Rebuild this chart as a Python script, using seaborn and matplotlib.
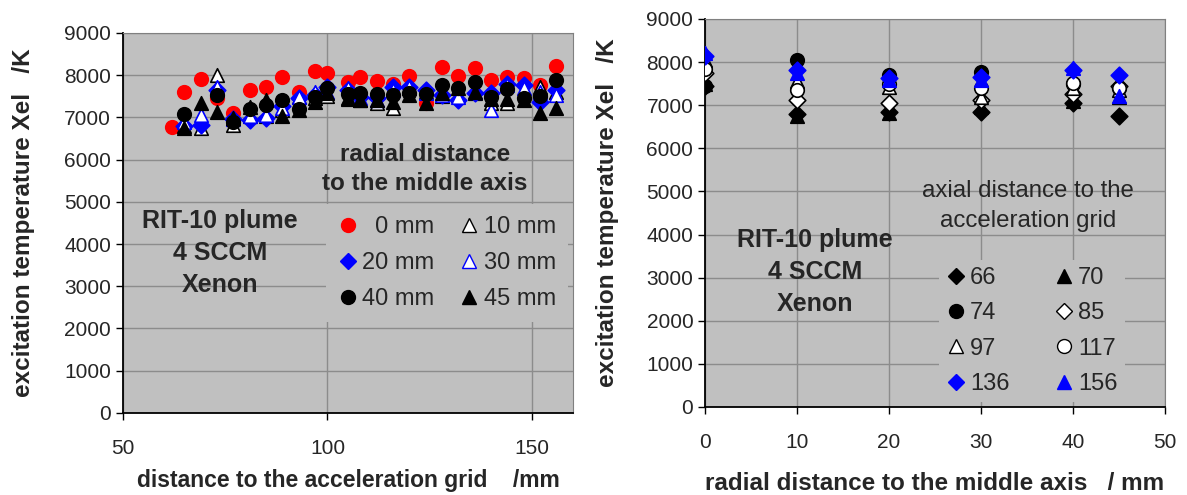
import numpy as np
import pandas as pd
import matplotlib
matplotlib.use("Agg")
import matplotlib.pyplot as plt
import seaborn as sns
from matplotlib.lines import Line2D

sns.set_style("white")
FONT = ['Liberation Sans', 'DejaVu Sans']
plt.rcParams['font.family'] = FONT

# ---- left panel: temperature vs axial distance, one series per radial distance
axial_mm = [62, 65, 69, 73, 77, 81, 85, 89, 93, 97, 100, 105, 108, 112, 116,
            120, 124, 128, 132, 136, 140, 144, 148, 152, 156]
t_r0 = [6780, 7610, 7900, 7450, 7100, 7650, 7720, 7960, 7610, 8100, 8060, 7840, 7950,
        7860, 7800, 7980, 7340, 8200, 7980, 8160, 7880, 7960, 7920, 7760, 8210]
t_r10 = [np.nan, 6800, 6740, 8000, 6820, 7020, 7020, 7170, 7490, 7450, 7500, 7450, 7410,
         7330, 7210, 7690, 7610, 7500, 7530, 7570, 7330, 7330, 7610, 7720, 7610]
t_r20 = [np.nan, 6800, 6820, 7650, 6950, 6940, 6980, 7270, 7450, 7530, 7720, 7650, 7470,
         7450, 7720, 7720, 7650, 7530, 7410, 7570, 7580, 7800, 7760, 7370, 7650]
t_r30 = [np.nan, 6900, 7050, 7720, 6950, 7020, 7050, 7210, 7490, 7610, 7610, 7690, 7450,
         7410, 7650, 7720, 7570, 7530, 7490, 7610, 7170, 7760, 7690, 7610, 7530]
t_r40 = [np.nan, 7070, np.nan, 7530, 6900, 7190, 7290, 7410, 7190, 7470, 7690, 7550, 7570,
         7550, 7530, 7570, 7560, 7760, 7690, 7840, 7490, 7660, 7450, 7500, 7880]
t_r45 = [np.nan, 6740, 7330, 7130, 6980, 7240, 7410, 7020, 7170, 7370, 7580, 7430, 7410,
         7410, 7370, 7530, 7330, 7570, 7690, 7610, 7430, 7430, 7410, 7090, 7210]

# ---- right panel: temperature vs radial distance, one series per axial distance
radial_mm = [0, 10, 20, 30, 40, 45]
t_a66 = [7450, 6800, 6850, 6850, 7050, 6750]
t_a70 = [7500, 6740, 6810, 6950, 7100, 7200]
t_a74 = [7450, 8040, 7700, 7760, 7500, 7400]
t_a85 = [7740, 7120, 7060, 7120, 7260, 7450]
t_a97 = [8050, 7550, 7430, 7200, 7400, 7350]
t_a117 = [7830, 7350, 7500, 7390, 7520, 7390]
t_a136 = [8130, 7820, 7630, 7660, 7820, 7700]
t_a156 = [8200, 7740, 7590, 7590, 7860, 7220]

left_series = [
    ("\u20070 mm", t_r0, "o", "red", "red"),
    ("10 mm", t_r10, "^", "white", "black"),
    ("20 mm", t_r20, "D", "blue", "blue"),
    ("30 mm", t_r30, "^", "white", "blue"),
    ("40 mm", t_r40, "o", "black", "black"),
    ("45 mm", t_r45, "^", "black", "black"),
]
right_series = [
    ("66", t_a66, "D", "black", "black"),
    ("70", t_a70, "^", "black", "black"),
    ("74", t_a74, "o", "black", "black"),
    ("85", t_a85, "D", "white", "black"),
    ("97", t_a97, "^", "white", "black"),
    ("117", t_a117, "o", "white", "black"),
    ("136", t_a136, "D", "blue", "blue"),
    ("156", t_a156, "^", "blue", "blue"),
]

BG = "#c0c0c0"
fig = plt.figure(figsize=(11.87, 4.95), dpi=100)
ax1 = fig.add_axes([0.1036, 0.1657, 0.379, 0.768])
ax2 = fig.add_axes([0.594, 0.1778, 0.3875, 0.784])


def style(ax):
    ax.set_facecolor(BG)
    ax.grid(True, color="#8c8c8c", lw=1.0)
    ax.set_axisbelow(True)
    for s in ["top", "right"]:
        ax.spines[s].set_color("#808080")
    for s in ["left", "bottom"]:
        ax.spines[s].set_color("black")
        ax.spines[s].set_linewidth(1.3)
    ax.tick_params(axis="both", direction="out", length=5, width=1, color="black",
                   labelsize=15, left=True, bottom=True)
    ax.tick_params(axis="x", pad=14)
    ax.set_ylim(0, 9000)
    ax.set_yticks(np.arange(0, 9001, 1000))


def draw(ax, x, series, size):
    handles = []
    for label, vals, m, fc, ec in series:
        df = pd.DataFrame({"x": x, "y": vals}).dropna()
        sns.scatterplot(data=df, x="x", y="y", marker=m, s=size * (0.75 if m == "D" else 1),
                        color=fc, edgecolor=ec, linewidth=1.2, ax=ax, legend=False, zorder=3)
        handles.append(Line2D([], [], ls="none", marker=m, markersize=8 if m == "D" else 10,
                              markerfacecolor=fc, markeredgecolor=ec, markeredgewidth=1.0,
                              label=label))
    return handles


leg_kw = dict(loc="center", bbox_transform=fig.transFigure, frameon=True, facecolor=BG,
              edgecolor="none", fancybox=False, framealpha=1,
              prop={"family": FONT, "size": 17}, handletextpad=0.2, handlelength=0.8)

# left
style(ax1)
h1 = draw(ax1, axial_mm, left_series, 95)
ax1.set_xlim(50, 160)
ax1.set_xticks([50, 100, 150])
ax1.set_xlabel("distance to the acceleration grid    /mm", fontsize=16.5, fontweight="bold", labelpad=8)
ax1.set_ylabel("excitation temperature Xel   /K", fontsize=17.5, fontweight="bold", labelpad=21)
ax1.text(0.216, 0.421, "RIT-10 plume\n4 SCCM\nXenon", transform=ax1.transAxes, ha="center",
         va="center", fontsize=18, fontweight="bold", linespacing=1.4)
ax1.text(0.671, 0.642, "radial distance\nto the middle axis", transform=ax1.transAxes,
         ha="center", va="center", fontsize=17.5, fontweight="bold", linespacing=1.35)
order1 = [0, 2, 4, 1, 3, 5]
ax1.legend(handles=[h1[i] for i in order1], ncol=2, bbox_to_anchor=(0.3766, 0.4687),
           columnspacing=1.1, labelspacing=0.6, borderpad=0.5, **leg_kw)

# right
style(ax2)
h2 = draw(ax2, radial_mm, right_series, 95)
ax2.set_xlim(0, 50)
ax2.set_xticks(np.arange(0, 51, 10))
ax2.set_xlabel("radial distance to the middle axis   / mm", fontsize=17.5, fontweight="bold", labelpad=14)
ax2.set_ylabel("excitation temperature Xel   /K", fontsize=17.5, fontweight="bold", labelpad=20)
ax2.text(0.239, 0.348, "RIT-10 plume\n4 SCCM\nXenon", transform=ax2.transAxes, ha="center",
         va="center", fontsize=18, fontweight="bold", linespacing=1.4)
ax2.text(0.702, 0.518, "axial distance to the\nacceleration grid", transform=ax2.transAxes,
         ha="center", va="center", fontsize=17.3, linespacing=1.45)
order2 = [0, 2, 4, 6, 1, 3, 5, 7]
ax2.legend(handles=[h2[i] for i in order2], ncol=2, bbox_to_anchor=(0.8694, 0.3313),
           columnspacing=1.9, labelspacing=0.56, borderpad=0.3, **leg_kw)

fig.savefig("out.png", dpi=100)
